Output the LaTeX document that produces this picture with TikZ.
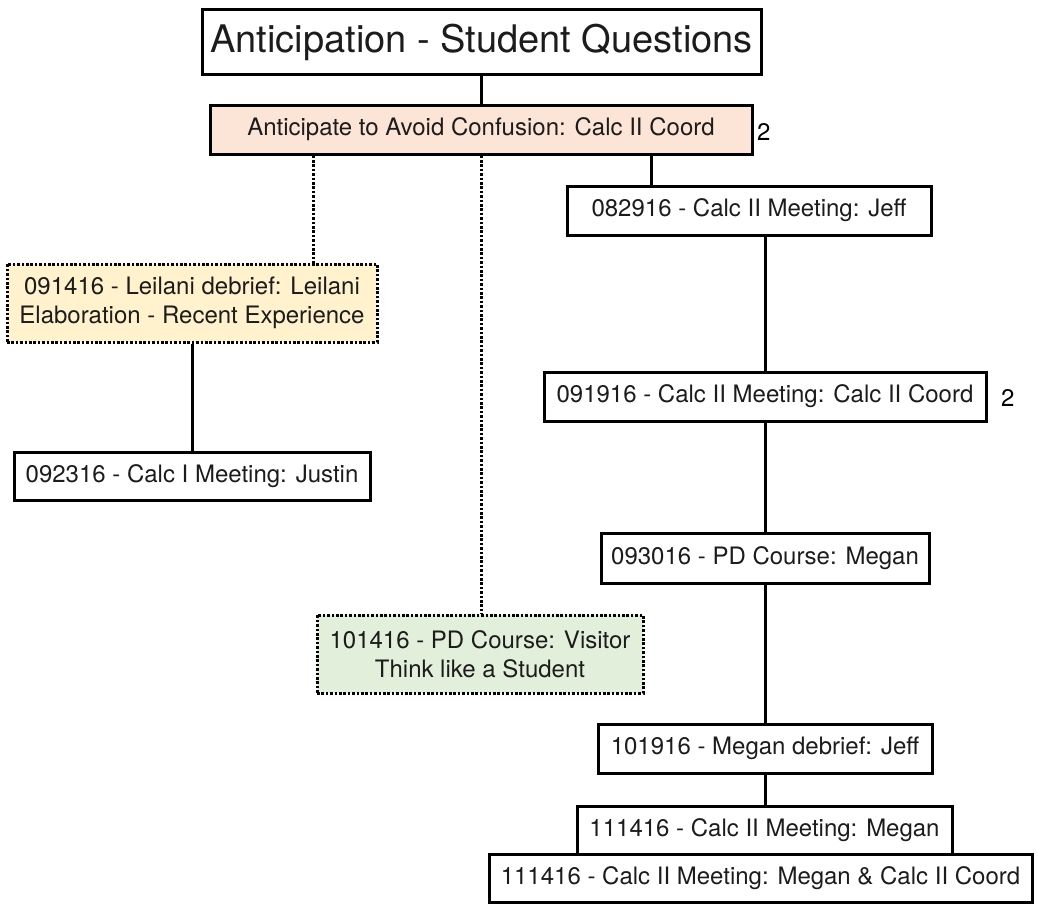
\documentclass[tikz,border=0pt]{standalone}
\usepackage{fontspec}
\setmainfont{TeX Gyre Heros}
\definecolor{salmonfill}{HTML}{FCE4D6}
\definecolor{yellowfill}{HTML}{FFF2CC}
\definecolor{greenfill}{HTML}{E2EFDA}
\definecolor{inktext}{HTML}{1C1C1C}
\begin{document}
\begin{tikzpicture}[x=1pt,y=-1pt,
  box/.style={draw=black, line width=3pt, fill=white, inner sep=0pt,
    align=center, text=inktext, font=\fontsize{24}{29}\selectfont},
  dotbox/.style={box, line width=3pt, dash pattern=on 2.6pt off 1.8pt},
  link/.style={draw=black, line width=3pt},
  dotlink/.style={link, line width=3pt, dash pattern=on 2.6pt off 1.8pt},
  count/.style={anchor=west, inner sep=0pt, text=black, font=\fontsize{24}{29}\selectfont}
]
\useasboundingbox (0,0) rectangle (1037,905);

% boxes
\node[box, minimum width=559pt, minimum height=65pt, font=\fontsize{38}{44}\selectfont]
  (title) at (481.5,42) {Anticipation - Student Questions};
\node[box, fill=salmonfill, minimum width=542pt, minimum height=49pt]
  (ant) at (481,129.5) {Anticipate to Avoid Confusion: Calc II Coord};
\node[count] (antn) at (757,132) {2};

\node[box, minimum width=364pt, minimum height=49pt]
  (m0829) at (749,210.5) {082916 - Calc II Meeting: Jeff};
\node[dotbox, fill=yellowfill, minimum width=370pt, minimum height=78pt]
  (m0914) at (192,303) {091416 - Leilani debrief: Leilani\\Elaboration - Recent Experience};
\node[box, minimum width=356pt, minimum height=48pt]
  (m0923) at (192,476) {092316 - Calc I Meeting: Justin};
\node[box, minimum width=442pt, minimum height=49pt]
  (m0919) at (765,396.5) {091916 - Calc II Meeting: Calc II Coord};
\node[count] (m0919n) at (1001,398) {2};
\node[box, minimum width=328pt, minimum height=50pt]
  (m0930) at (765,558) {093016 - PD Course: Megan};
\node[dotbox, fill=greenfill, minimum width=326pt, minimum height=78pt]
  (m1014) at (480,654) {101416 - PD Course: Visitor\\Think like a Student};
\node[box, minimum width=334pt, minimum height=49pt]
  (m1019) at (765,748.5) {101916 - Megan debrief: Jeff};
\node[box, minimum width=375pt, minimum height=48pt]
  (m1114a) at (764.5,830) {111416 - Calc II Meeting: Megan};
\node[box, minimum width=543pt, minimum height=48pt]
  (m1114b) at (760.5,878) {111416 - Calc II Meeting: Megan \& Calc II Coord};

% solid connectors
\draw[link] (title.south) -- (title.south |- ant.north);
\coordinate (antr) at ([xshift=170pt]ant.south);
\draw[link] (antr) -- (antr |- m0829.north);
\draw[link] (m0829.south -| m0919.north) -- (m0919.north);
\draw[link] (m0919.south) -- (m0919.south |- m0930.north);
\draw[link] (m0930.south) -- (m0930.south |- m1019.north);
\draw[link] (m1019.south) -- (m1019.south |- m1114a.north);
\draw[link] (m0914.south) -- (m0914.south |- m0923.north);

% dotted connectors
\coordinate (antl) at ([xshift=-168pt]ant.south);
\draw[dotlink] (antl) -- (antl |- m0914.north);
\draw[dotlink] (ant.south) -- (ant.south |- m1014.north);
\end{tikzpicture}
\end{document}
